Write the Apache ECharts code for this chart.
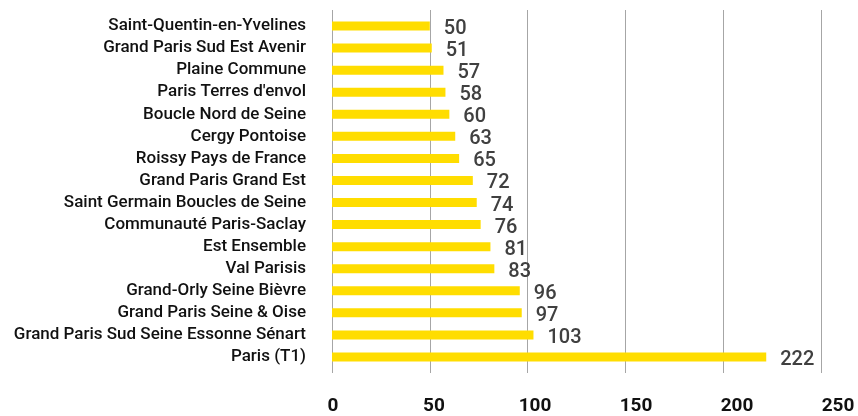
<!DOCTYPE html>
<html>
<head>
<meta charset="utf-8">
<script src="https://cdn.jsdelivr.net/npm/echarts@6/dist/echarts.min.js"></script>
<style>
  html, body { margin: 0; padding: 0; background: #fff; }
  #chart { width: 858px; height: 416px; }
</style>
</head>
<body>
<div id="chart"></div>
<script>
// territoires, du haut vers le bas
const territoires = [
    'Saint-Quentin-en-Yvelines',
    'Grand Paris Sud Est Avenir',
    'Plaine Commune',
    "Paris Terres d'envol",
    'Boucle Nord de Seine',
    'Cergy Pontoise',
    'Roissy Pays de France',
    'Grand Paris Grand Est',
    'Saint Germain Boucles de Seine',
    'Communauté Paris-Saclay',
    'Est Ensemble',
    'Val Parisis',
    'Grand-Orly Seine Bièvre',
    'Grand Paris Seine & Oise',
    'Grand Paris Sud Seine Essonne Sénart',
    'Paris (T1)'
]

const valeurs = [50, 51, 57, 58, 60, 63, 65, 72, 74, 76, 81, 83, 96, 97, 103, 222]

const axeMin = 0
const axeMax = 250
const axePas = 50

const jaune = '#FFDD00'
const gris = '#a6a6a6'

var dom = document.getElementById('chart');
var myChart = echarts.init(dom, null, { renderer: 'canvas' });

var option = {
    animation: false,
    grid: [
        // barres
        { left: 332, right: 37, top: 15, bottom: 48 },
        // lignes verticales (un peu plus hautes que les barres)
        { left: 332, right: 37, top: 10, bottom: 43 },
        // libellés de l'axe
        { left: 333, right: 20, top: 10, bottom: 43 }
    ],
    xAxis: [
        {
            gridIndex: 0, type: 'value', min: axeMin, max: axeMax, interval: axePas,
            axisLine: { show: false }, axisTick: { show: false },
            axisLabel: { show: false }, splitLine: { show: false }
        },
        {
            gridIndex: 1, type: 'value', min: axeMin, max: axeMax, interval: axePas,
            axisLine: { show: false }, axisTick: { show: false },
            axisLabel: { show: false },
            splitLine: { show: true, lineStyle: { color: gris, width: 1 } }
        },
        {
            gridIndex: 2, type: 'value', min: axeMin, max: axeMax, interval: axePas,
            axisLine: { show: false }, axisTick: { show: false },
            splitLine: { show: false },
            axisLabel: {
                margin: 25,
                color: '#111',
                fontSize: 19,
                fontWeight: 'bold',
                fontFamily: 'Roboto, sans-serif'
            }
        }
    ],
    yAxis: [
        {
            gridIndex: 0, type: 'category', data: territoires, inverse: true,
            axisLine: { show: false }, axisTick: { show: false },
            axisLabel: {
                interval: 0,
                margin: 26,
                color: '#111',
                fontSize: 17,
                fontWeight: 500,
                fontFamily: 'Roboto, sans-serif'
            }
        },
        { gridIndex: 1, type: 'value', show: false },
        { gridIndex: 2, type: 'value', show: false }
    ],
    series: [
        {
            type: 'bar',
            xAxisIndex: 0,
            yAxisIndex: 0,
            data: valeurs,
            barWidth: 9,
            itemStyle: { color: jaune },
            label: {
                show: true,
                position: 'right',
                distance: 14,
                offset: [0, 3],
                color: '#404040',
                fontSize: 20,
                fontWeight: 500,
                fontFamily: 'Roboto, sans-serif'
            }
        }
    ]
};

myChart.setOption(option);
window.addEventListener('resize', myChart.resize);
</script>
</body>
</html>
